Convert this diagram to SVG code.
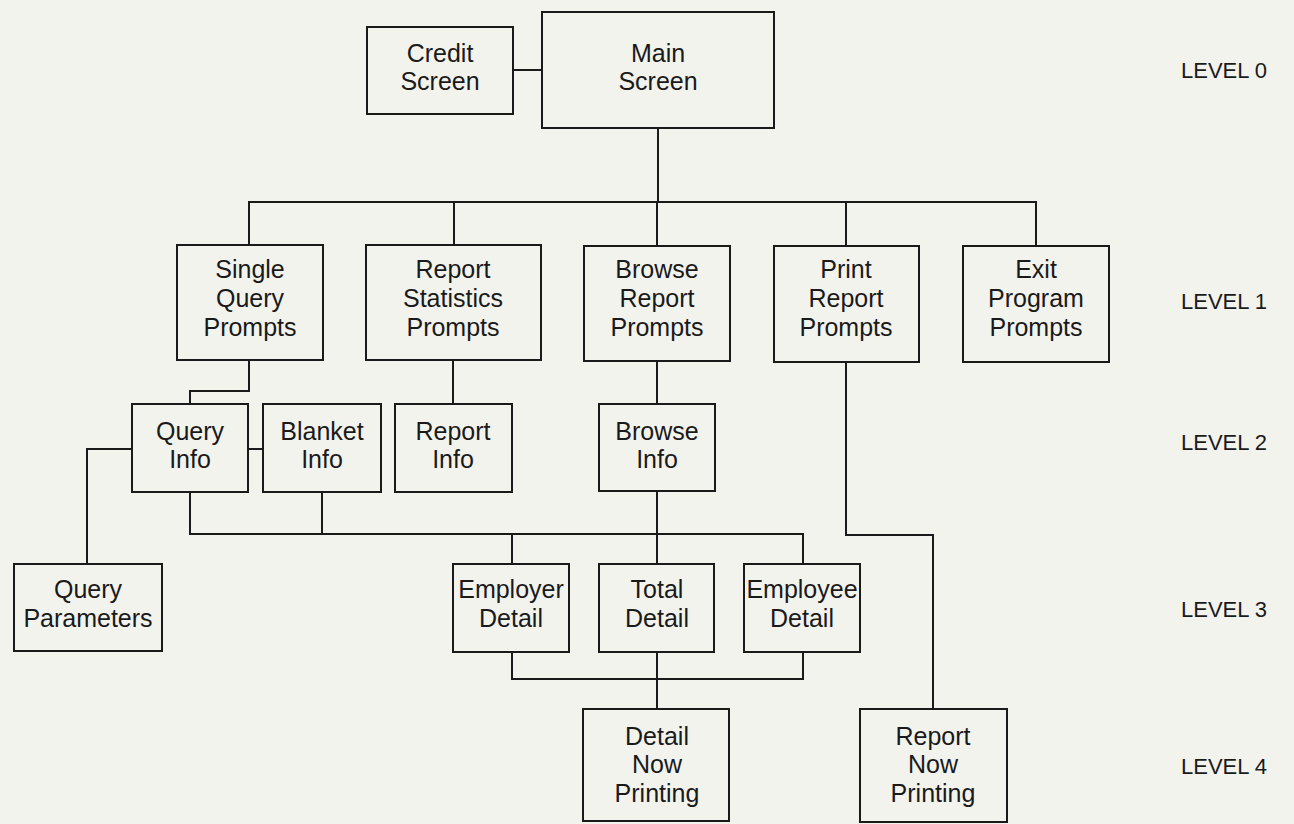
<svg xmlns="http://www.w3.org/2000/svg" width="1294" height="824" viewBox="0 0 1294 824">
  <style>
    .box { fill: none; stroke: #1a1a1a; stroke-width: 2; }
    .wire { fill: none; stroke: #1a1a1a; stroke-width: 2; }
    .lbl { font-family: "Liberation Sans", Arial, sans-serif; font-size: 25px; fill: #1a1a1a; text-anchor: middle; }
    .lvl { font-family: "Liberation Sans", Arial, sans-serif; font-size: 22px; fill: #1a1a1a; }
  </style>
  <rect width="1294" height="824" fill="#f3f3ee"/>

  <!-- connectors -->
  <g id="connectors">
    <path class="wire" d="M513 70 H542"/>
    <path class="wire" d="M658 128 V202"/>
    <path class="wire" d="M249 245 V202 H1036 V246"/>
    <path class="wire" d="M454 202 V245"/>
    <path class="wire" d="M657 202 V246"/>
    <path class="wire" d="M846 202 V246"/>
    <path class="wire" d="M249 360 V391 H190 V404"/>
    <path class="wire" d="M453 360 V404"/>
    <path class="wire" d="M657 361 V404"/>
    <path class="wire" d="M248 449 H263"/>
    <path class="wire" d="M132 449 H87 V564"/>
    <path class="wire" d="M190 492 V534 H803 V564"/>
    <path class="wire" d="M322 492 V534"/>
    <path class="wire" d="M512 534 V564"/>
    <path class="wire" d="M657 491 V564"/>
    <path class="wire" d="M512 652 V679 H803 V652"/>
    <path class="wire" d="M657 652 V709"/>
    <path class="wire" d="M846 362 V535 H933 V709"/>
  </g>

  <!-- level 0 -->
  <g id="credit-screen">
    <rect class="box" x="367" y="27" width="146" height="87"/>
    <text class="lbl" x="440" y="62">Credit</text>
    <text class="lbl" x="440" y="90">Screen</text>
  </g>
  <g id="main-screen">
    <rect class="box" x="542" y="12" width="232" height="116"/>
    <text class="lbl" x="658" y="62">Main</text>
    <text class="lbl" x="658" y="90">Screen</text>
  </g>

  <!-- level 1 -->
  <g id="single-query-prompts">
    <rect class="box" x="177" y="245" width="146" height="115"/>
    <text class="lbl" x="250" y="278">Single</text>
    <text class="lbl" x="250" y="307">Query</text>
    <text class="lbl" x="250" y="336">Prompts</text>
  </g>
  <g id="report-statistics-prompts">
    <rect class="box" x="366" y="245" width="175" height="115"/>
    <text class="lbl" x="453" y="278">Report</text>
    <text class="lbl" x="453" y="307">Statistics</text>
    <text class="lbl" x="453" y="336">Prompts</text>
  </g>
  <g id="browse-report-prompts">
    <rect class="box" x="584" y="246" width="146" height="115"/>
    <text class="lbl" x="657" y="278">Browse</text>
    <text class="lbl" x="657" y="307">Report</text>
    <text class="lbl" x="657" y="336">Prompts</text>
  </g>
  <g id="print-report-prompts">
    <rect class="box" x="774" y="246" width="145" height="116"/>
    <text class="lbl" x="846" y="278">Print</text>
    <text class="lbl" x="846" y="307">Report</text>
    <text class="lbl" x="846" y="336">Prompts</text>
  </g>
  <g id="exit-program-prompts">
    <rect class="box" x="963" y="246" width="146" height="116"/>
    <text class="lbl" x="1036" y="278">Exit</text>
    <text class="lbl" x="1036" y="307">Program</text>
    <text class="lbl" x="1036" y="336">Prompts</text>
  </g>

  <!-- level 2 -->
  <g id="query-info">
    <rect class="box" x="132" y="404" width="116" height="88"/>
    <text class="lbl" x="190" y="440">Query</text>
    <text class="lbl" x="190" y="468">Info</text>
  </g>
  <g id="blanket-info">
    <rect class="box" x="263" y="404" width="118" height="88"/>
    <text class="lbl" x="322" y="440">Blanket</text>
    <text class="lbl" x="322" y="468">Info</text>
  </g>
  <g id="report-info">
    <rect class="box" x="395" y="404" width="117" height="88"/>
    <text class="lbl" x="453" y="440">Report</text>
    <text class="lbl" x="453" y="468">Info</text>
  </g>
  <g id="browse-info">
    <rect class="box" x="599" y="404" width="116" height="87"/>
    <text class="lbl" x="657" y="440">Browse</text>
    <text class="lbl" x="657" y="468">Info</text>
  </g>

  <!-- level 3 -->
  <g id="query-parameters">
    <rect class="box" x="14" y="564" width="148" height="87"/>
    <text class="lbl" x="88" y="598">Query</text>
    <text class="lbl" x="88" y="627">Parameters</text>
  </g>
  <g id="employer-detail">
    <rect class="box" x="453" y="564" width="116" height="88"/>
    <text class="lbl" x="511" y="598">Employer</text>
    <text class="lbl" x="511" y="627">Detail</text>
  </g>
  <g id="total-detail">
    <rect class="box" x="599" y="564" width="115" height="88"/>
    <text class="lbl" x="657" y="598">Total</text>
    <text class="lbl" x="657" y="627">Detail</text>
  </g>
  <g id="employee-detail">
    <rect class="box" x="744" y="564" width="116" height="88"/>
    <text class="lbl" x="802" y="598">Employee</text>
    <text class="lbl" x="802" y="627">Detail</text>
  </g>

  <!-- level 4 -->
  <g id="detail-now-printing">
    <rect class="box" x="583" y="709" width="146" height="112"/>
    <text class="lbl" x="657" y="745">Detail</text>
    <text class="lbl" x="657" y="773">Now</text>
    <text class="lbl" x="657" y="802">Printing</text>
  </g>
  <g id="report-now-printing">
    <rect class="box" x="860" y="709" width="147" height="113"/>
    <text class="lbl" x="933" y="745">Report</text>
    <text class="lbl" x="933" y="773">Now</text>
    <text class="lbl" x="933" y="802">Printing</text>
  </g>

  <!-- level captions -->
  <g id="level-captions">
    <text class="lvl" x="1181" y="78">LEVEL 0</text>
    <text class="lvl" x="1181" y="309">LEVEL 1</text>
    <text class="lvl" x="1181" y="450">LEVEL 2</text>
    <text class="lvl" x="1181" y="617">LEVEL 3</text>
    <text class="lvl" x="1181" y="774">LEVEL 4</text>
  </g>
</svg>
